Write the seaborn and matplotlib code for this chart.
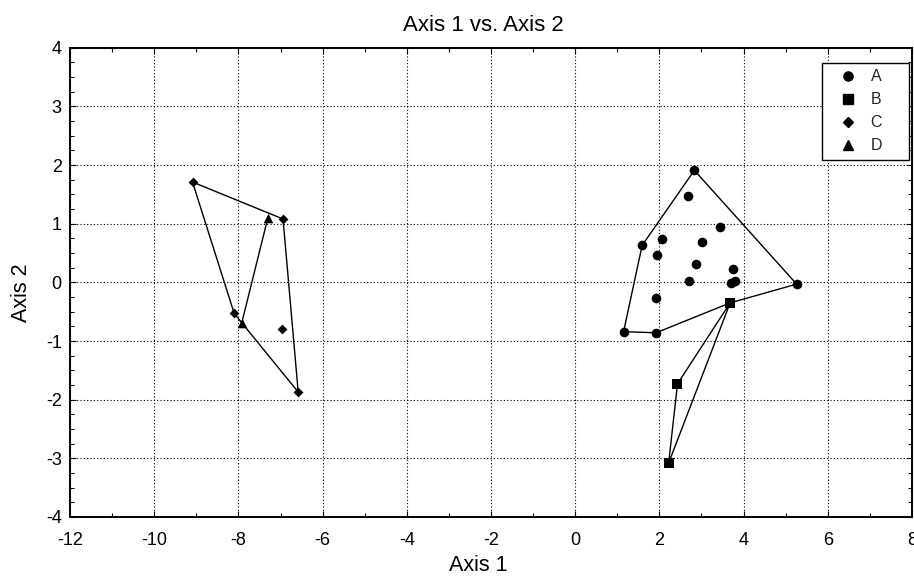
import matplotlib
matplotlib.use("Agg")
import matplotlib.pyplot as plt
import seaborn as sns
import pandas as pd
from matplotlib.ticker import MultipleLocator
from matplotlib.lines import Line2D

# ---- data ----
a_x = [2.83, 2.69, 3.45, 1.59, 2.06, 3.01, 1.94, 2.88, 3.74, 2.71, 3.70, 3.80, 5.26, 1.92, 1.15, 1.92, 3.68]
a_y = [1.91, 1.47, 0.95, 0.63, 0.74, 0.68, 0.47, 0.31, 0.23, 0.02, -0.01, 0.02, -0.03, -0.26, -0.84, -0.86, -0.35]
b_x = [3.68, 2.43, 2.22]
b_y = [-0.35, -1.73, -3.08]
c_x = [-9.09, -6.94, -8.10, -6.96, -6.58]
c_y = [1.71, 1.08, -0.53, -0.79, -1.87]
d_x = [-7.30, -7.92]
d_y = [1.10, -0.69]

# hull vertex order (indices into each group's arrays)
a_hull = [14, 3, 0, 12, 16, 15, 14]
b_hull = [0, 1, 2, 0]
c_hull = [0, 1, 4, 2, 0]
d_hull = [0, 1]

groups = ["A", "B", "C", "D"]
xs = {"A": a_x, "B": b_x, "C": c_x, "D": d_x}
ys = {"A": a_y, "B": b_y, "C": c_y, "D": d_y}
hulls = {"A": a_hull, "B": b_hull, "C": c_hull, "D": d_hull}

rows = []
for g in groups:
    n = len(xs[g]) if g != "A" else len(xs[g]) - 1  # last A vertex lies under the B square
    for i in range(n):
        rows.append({"x": xs[g][i], "y": ys[g][i], "group": g})
df = pd.DataFrame(rows)

sns.set_theme(style="white")
plt.rcParams["font.family"] = ["Liberation Sans", "DejaVu Sans"]
plt.rcParams["axes.unicode_minus"] = False

fig = plt.figure(figsize=(9.14, 5.77), dpi=100)
ax = fig.add_axes([0.0766, 0.104, 0.9212, 0.8133])

for g in groups:
    hx = [xs[g][i] for i in hulls[g]]
    hy = [ys[g][i] for i in hulls[g]]
    ax.plot(hx, hy, color="black", lw=1.0, zorder=2)

markers = {"A": "o", "B": "s", "C": "D", "D": "^"}
sizes = {"A": 48, "B": 42, "C": 25, "D": 48}
for g in groups:
    sub = df[df.group == g]
    sns.scatterplot(data=sub, x="x", y="y", marker=markers[g], s=sizes[g],
                    color="black", edgecolor="black", linewidth=0, ax=ax,
                    legend=False, zorder=3)

ax.set_xlim(-12, 8)
ax.set_ylim(-4, 4)
ax.xaxis.set_major_locator(MultipleLocator(2))
ax.xaxis.set_minor_locator(MultipleLocator(1))
ax.yaxis.set_major_locator(MultipleLocator(1))
ax.yaxis.set_minor_locator(MultipleLocator(0.25))
ax.grid(True, which="major", color="black", linestyle=(0, (1, 2)), linewidth=0.8)
ax.tick_params(which="both", direction="in", colors="black", labelsize=13,
               top=True, right=True, bottom=True, left=True)
ax.tick_params(axis="x", which="major", pad=10.5)
ax.tick_params(axis="y", which="major", pad=6)
ax.tick_params(which="major", length=4, width=0.8)
ax.tick_params(which="minor", length=3, width=0.8)
for s in ax.spines.values():
    s.set_color("black")
    s.set_linewidth(1.4)

ax.set_xlabel("Axis 1", fontsize=15.5, color="black")
ax.set_ylabel("Axis 2", fontsize=15.5, color="black")
ax.xaxis.set_label_coords(0.4851, -0.081)
ax.yaxis.set_label_coords(-0.045, 0.477)
ax.set_title("Axis 1 vs. Axis 2", fontsize=16, color="black", pad=12, x=0.4905)

handles = [Line2D([], [], linestyle="none", marker=markers[g], color="black",
                  markersize=(6.6 if g != "C" else 5.2)) for g in groups]
leg = ax.legend(handles, groups, loc="upper left", frameon=True, fancybox=False,
                fontsize=11.5, borderpad=0.4, labelspacing=0.5, handlelength=2.5,
                handletextpad=0.15, mode="expand",
                bbox_to_anchor=(0.8931, 0.7671, 0.1033, 0.2003), borderaxespad=0.0)
leg.get_frame().set_edgecolor("black")
leg.get_frame().set_linewidth(1.0)
leg.get_frame().set_alpha(1)

fig.savefig("out.png", dpi=100)
